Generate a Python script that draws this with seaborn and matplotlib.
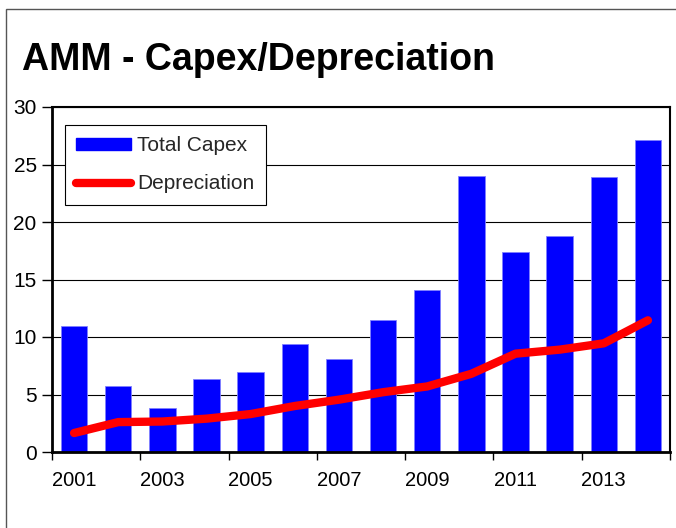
import matplotlib
matplotlib.use("Agg")
import matplotlib.pyplot as plt
from matplotlib.patches import Patch, Rectangle
from matplotlib.lines import Line2D
import seaborn as sns
import pandas as pd
import numpy as np

years = [2001, 2002, 2003, 2004, 2005, 2006, 2007, 2008, 2009, 2010, 2011, 2012, 2013, 2014]
total_capex = [11.0, 5.7, 3.8, 6.35, 7.0, 9.35, 8.1, 11.5, 14.1, 24.0, 17.35, 18.8, 23.95, 27.1]
depreciation = [1.65, 2.6, 2.65, 2.9, 3.3, 4.0, 4.55, 5.2, 5.7, 6.8, 8.55, 8.9, 9.45, 11.45]
ytick_vals = [0, 5, 10, 15, 20, 25, 30]
xtick_labels = ["2001", "2003", "2005", "2007", "2009", "2011", "2013"]

sns.set_theme(style="white")
plt.rcParams["font.family"] = ["Liberation Sans", "DejaVu Sans"]

df = pd.DataFrame({"year": [str(y) for y in years], "capex": total_capex,
                   "pos": np.arange(len(years)), "dep": depreciation})

fig = plt.figure(figsize=(6.76, 5.28), dpi=100)
ax = fig.add_axes([52/676, 1-452/528, (670-52)/676, (452-107)/528])

ax.set_axisbelow(True)
ax.yaxis.grid(True, color="black", linewidth=0.8)
sns.barplot(data=df, x="year", y="capex", color="#0000FF", width=0.6,
            edgecolor="#8080FF", linewidth=0.6, saturation=1, ax=ax)
sns.lineplot(data=df, x="pos", y="dep", color="#FF0000", linewidth=6,
             solid_capstyle="round", solid_joinstyle="round", ax=ax)

ax.set_xlim(-0.5, len(years) - 0.5)
ax.set_ylim(0, 30)
ax.set_yticks(ytick_vals)
ax.set_yticklabels([str(v) for v in ytick_vals])
ax.set_xlabel("")
ax.set_ylabel("")

# major ticks at category boundaries, labels at category centers
ax.set_xticks(np.arange(-0.5, len(years), 2))
ax.set_xticklabels([])
ax.set_xticks(np.arange(0, len(years), 2), minor=True)
ax.set_xticklabels(xtick_labels, minor=True)
ax.tick_params(axis="x", which="major", direction="out", length=6, width=1, color="black", bottom=True)
ax.tick_params(axis="x", which="minor", length=0, pad=14, labelsize=14.5, labelcolor="black")
ax.tick_params(axis="y", direction="out", length=7, width=1, color="black", left=True,
               labelsize=15, labelcolor="black", pad=4)

for s in ["left", "bottom", "top", "right"]:
    ax.spines[s].set_visible(True)
    ax.spines[s].set_color("black")
ax.spines["left"].set_linewidth(2)
ax.spines["bottom"].set_linewidth(2)
ax.spines["top"].set_linewidth(1.5)
ax.spines["right"].set_linewidth(1.5)

handles = [Patch(facecolor="#0000FF", edgecolor="#0000FF", label="Total Capex"),
           Line2D([0], [0], color="#FF0000", linewidth=6, solid_capstyle="round", label="Depreciation")]
leg = ax.legend(handles=handles, loc="upper left", bbox_to_anchor=(13/618, 1-18/345),
                fontsize=15, frameon=True, fancybox=False, edgecolor="black",
                framealpha=1, handlelength=2.6, handleheight=0.5, handletextpad=0.3,
                labelspacing=0.9, borderpad=0.55, borderaxespad=0)
leg.get_frame().set_linewidth(0.8)

fig.text(22/676, 1-70/528, "AMM - Capex/Depreciation", fontsize=27, fontweight="bold",
         ha="left", va="baseline", color="black")

fig.patches.append(Rectangle((6/676, -0.1), 1.2, 1 - 9/528 + 0.1, transform=fig.transFigure,
                             fill=False, edgecolor="#555555", linewidth=1))

fig.savefig("out.png", dpi=100)
